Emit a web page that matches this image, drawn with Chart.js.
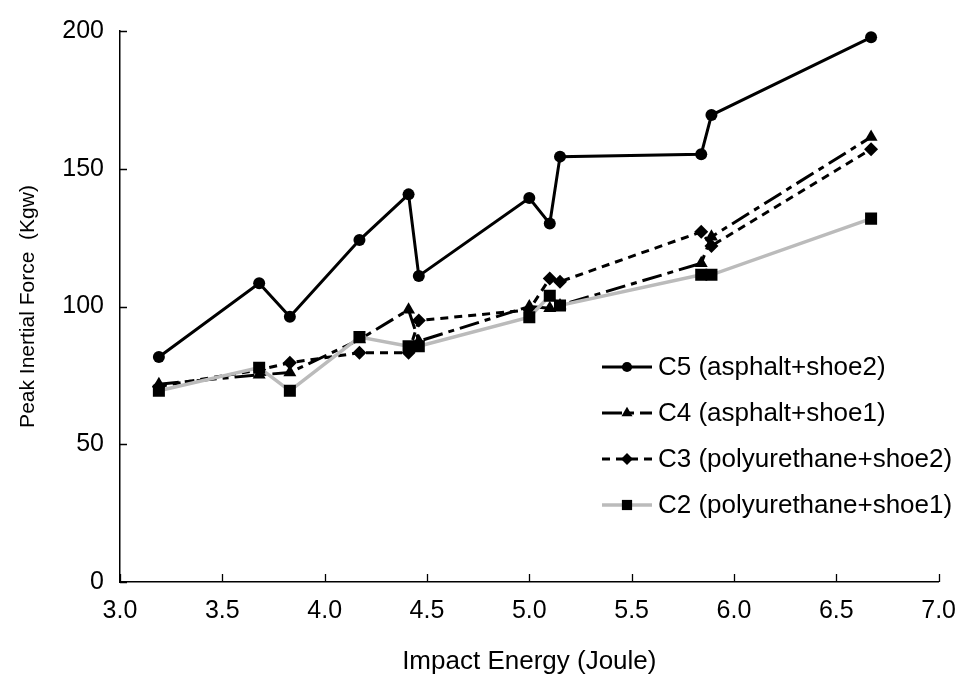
<!DOCTYPE html>
<html>
<head>
<meta charset="utf-8">
<script src="https://cdn.jsdelivr.net/npm/chart.js@4"></script>
<style>
  html, body { margin: 0; padding: 0; background: #fff; }
  #wrap { width: 970px; height: 677px; position: relative; }
</style>
</head>
<body>
<div id="wrap"><canvas id="chart1"></canvas></div>
<script>
// impact energy (Joule), shared by all series
var energy = [3.19, 3.68, 3.83, 4.17, 4.41, 4.46, 5.0, 5.1, 5.15, 5.84, 5.89, 6.67];

// peak inertial force (Kgw)
var c5 = [81.7, 108.4, 96.3, 124.1, 140.7, 111.1, 139.4, 130.1, 154.4, 155.3, 169.5, 197.7];
var c4 = [71.8, 75.2, 76.0, 88.0, 98.8, 87.4, 100.0, 99.4, 100.4, 115.7, 125.3, 161.5];
var c3 = [71.0, 77.0, 79.6, 83.2, 83.2, 94.9, 98.8, 110.2, 109.0, 127.1, 122.0, 157.1];
var c2 = [69.4, 77.8, 69.4, 88.9, 85.6, 85.6, 96.1, 103.9, 100.4, 111.5, 111.5, 131.9];

var seriesNames = ['C5 (asphalt+shoe2)', 'C4 (asphalt+shoe1)', 'C3 (polyurethane+shoe2)', 'C2 (polyurethane+shoe1)'];
var xTicks = [3.0, 3.5, 4.0, 4.5, 5.0, 5.5, 6.0, 6.5, 7.0];
var yTicks = [0, 50, 100, 150, 200];

function pts(ys) {
    return ys.map(function(v, i) { return { x: energy[i], y: v }; });
}

var FONT = 'Arial, "Liberation Sans", sans-serif';

var styles = [
    { color: '#000', dash: [], width: 3, point: 'circle', radius: 6, order: 3 },
    { color: '#000', dash: [20, 6, 6, 6], width: 3, point: 'triangle', radius: 7.5, order: 2 },
    { color: '#000', dash: [8, 6], width: 3, point: 'rectRot', radius: 7, order: 1 },
    { color: '#bbbbbb', dash: [], width: 3.5, point: 'rect', radius: 8.5, order: 0 }
];
var values = [c5, c4, c3, c2];

var datasets = values.map(function(v, i) {
    var s = styles[i];
    return {
        label: seriesNames[i],
        data: pts(v),
        showLine: true,
        borderColor: s.color,
        borderWidth: s.width,
        borderDash: s.dash,
        pointStyle: s.point,
        pointRadius: s.radius,
        pointBackgroundColor: '#000',
        pointBorderColor: '#000',
        pointBorderWidth: 0,
        order: s.order
    };
});

// inward tick marks on both axes
var innerTicks = {
    id: 'innerTicks',
    afterDraw: function(chart) {
        var ctx = chart.ctx, a = chart.chartArea;
        var xs = chart.scales.x, ys = chart.scales.y;
        ctx.save();
        ctx.strokeStyle = '#000';
        ctx.lineWidth = 1.3;
        ctx.beginPath();
        xTicks.forEach(function(t) {
            var px = Math.round(xs.getPixelForValue(t)) + 0.5;
            ctx.moveTo(px, a.bottom);
            ctx.lineTo(px, a.bottom - 8);
        });
        yTicks.forEach(function(t) {
            var py = Math.round(ys.getPixelForValue(t)) + 0.5;
            ctx.moveTo(a.left, py);
            ctx.lineTo(a.left + 7, py);
        });
        ctx.stroke();
        ctx.restore();
    }
};

// legend drawn inside the plot, lower right
var innerLegend = {
    id: 'innerLegend',
    afterDraw: function(chart) {
        var ctx = chart.ctx;
        var x0 = 602, x1 = 652, tx = 658;
        var rows = [367, 413, 459, 505];
        ctx.save();
        styles.forEach(function(s, i) {
            var y = rows[i];
            ctx.strokeStyle = s.color;
            ctx.lineWidth = s.width;
            ctx.setLineDash(s.dash);
            ctx.beginPath();
            ctx.moveTo(x0, y);
            ctx.lineTo(x1, y);
            ctx.stroke();
            ctx.setLineDash([]);
            ctx.fillStyle = '#000';
            ctx.strokeStyle = '#000';
            Chart.helpers.drawPoint(ctx, { pointStyle: s.point, radius: s.radius * 0.85, rotation: 0, borderWidth: 0 }, (x0 + x1) / 2, y);
            ctx.fillStyle = '#000';
            ctx.font = '26px ' + FONT;
            ctx.textBaseline = 'middle';
            ctx.textAlign = 'left';
            ctx.fillText(seriesNames[i], tx, y + 1);
        });
        ctx.restore();
    }
};

var ctx = document.getElementById('chart1').getContext('2d');
var myChart = new Chart(ctx, {
    type: 'scatter',
    data: { datasets: datasets },
    options: {
        responsive: true,
        maintainAspectRatio: false,
        animation: false,
        layout: { padding: { left: 0, right: 15, top: 28, bottom: 0 } },
        plugins: {
            legend: { display: false },
            tooltip: { enabled: false }
        },
        scales: {
            x: {
                type: 'linear',
                min: 3, max: 7,
                afterBuildTicks: function(scale) {
                    scale.ticks = xTicks.map(function(v) { return { value: v }; });
                },
                afterFit: function(scale) { scale.height = 95; },
                border: { display: true, color: '#000', width: 1.5 },
                grid: { display: false, drawTicks: false },
                ticks: {
                    color: '#000',
                    padding: 14,
                    maxRotation: 0,
                    font: { family: FONT, size: 25 },
                    callback: function(v) { return Number(v).toFixed(1); }
                },
                title: {
                    display: true,
                    text: 'Impact Energy (Joule)',
                    color: '#000',
                    font: { family: FONT, size: 26 },
                    padding: { top: 4, bottom: 0 }
                }
            },
            y: {
                type: 'linear',
                min: 0, max: 200,
                afterBuildTicks: function(scale) {
                    scale.ticks = yTicks.map(function(v) { return { value: v }; });
                },
                afterFit: function(scale) { scale.width = 120; },
                border: { display: true, color: '#000', width: 1.5 },
                grid: { display: false, drawTicks: false },
                ticks: {
                    color: '#000',
                    padding: 16,
                    font: { family: FONT, size: 25 }
                },
                title: {
                    display: true,
                    text: 'Peak Inertial Force  (Kgw)',
                    color: '#000',
                    font: { family: FONT, size: 21 },
                    padding: { top: 16, bottom: 0 }
                }
            }
        }
    },
    plugins: [innerTicks, innerLegend]
});
</script>
</body>
</html>
